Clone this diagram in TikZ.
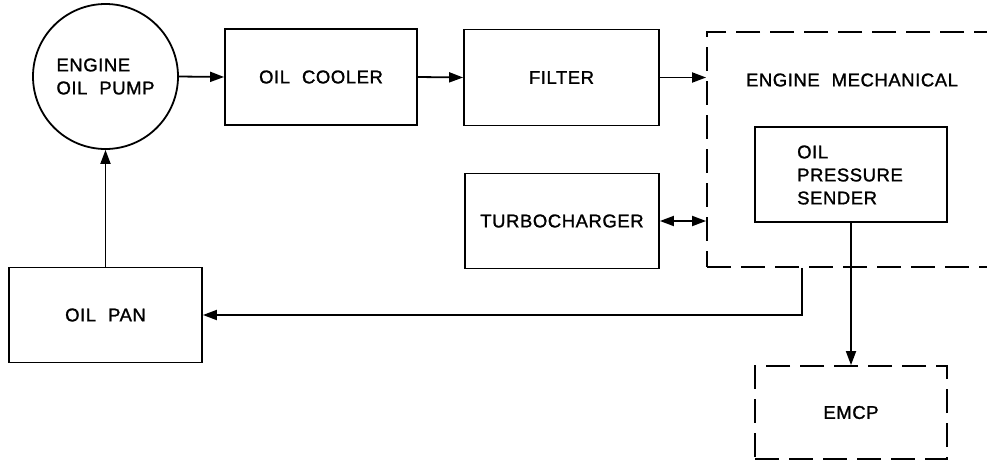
\documentclass[tikz,border=0pt]{standalone}
\usepackage{fontspec}
\setmainfont{Liberation Sans}
\newfontfamily\lblfont[LetterSpace=3,WordSpace=2.1,FakeBold=1.3]{Liberation Sans}
\usetikzlibrary{arrows.meta}
\tikzset{
  lbl/.style={font=\lblfont\fontsize{18.5}{23}\selectfont},
  box/.style={draw, line width=1.8pt, rectangle, inner sep=0pt, lbl},
  dbox/.style={box, dash pattern=on 24pt off 10pt},
  pumpstyle/.style={draw, line width=1.8pt, circle, inner sep=0pt, minimum size=145pt, align=left, lbl},
  arr/.style={line width=1.8pt, -{Triangle[length=14pt,width=10pt]}},
  darr/.style={line width=1.8pt, {Triangle[length=14pt,width=10pt]}-{Triangle[length=14pt,width=10pt]}}
}
\begin{document}
\begin{tikzpicture}[x=1pt,y=-1pt]
\useasboundingbox (0,0) rectangle (987,461);
\clip (0,0) rectangle (987,461);
\node[pumpstyle] (pump) at (105.5,76.5) {ENGINE\\OIL PUMP};
\node[box, minimum width=192pt, minimum height=96pt] (cooler) at (321,77) {OIL COOLER};
\node[box, minimum width=195pt, minimum height=96pt] (filter) at (561.5,77.5) {FILTER};
\node[dbox, minimum width=300pt, minimum height=235pt] (mech) at (857,149.5) {};
\node[lbl] (mechlbl) at (852,80) {ENGINE MECHANICAL};
\node[box, minimum width=192pt, minimum height=95pt] (sender) at (851,174.5) {};
\node[lbl, anchor=west, align=left, inner sep=0pt] (senderlbl) at (797,175) {OIL\\PRESSURE\\SENDER};
\node[box, minimum width=194pt, minimum height=95pt] (turbo) at (562,221) {TURBOCHARGER};
\node[box, minimum width=193pt, minimum height=95pt] (pan) at (105.5,315) {OIL PAN};
\node[dbox, minimum width=192pt, minimum height=93pt] (emcp) at (851,412.5) {EMCP};

\draw[arr] (pump.east) -- (cooler.west);
\draw[arr] (cooler.east) -- (filter.west);
\draw[arr] (filter.east) -- (filter.east -| mech.west);
\draw[darr] (turbo.east) -- (turbo.east -| mech.west);
\draw[arr] (pan.north) -- (pump.south);
\draw[arr] (mech.south west) ++(96,0) |- (pan.east);
\draw[arr] (sender.south) -- (emcp.north);
\end{tikzpicture}
\end{document}
